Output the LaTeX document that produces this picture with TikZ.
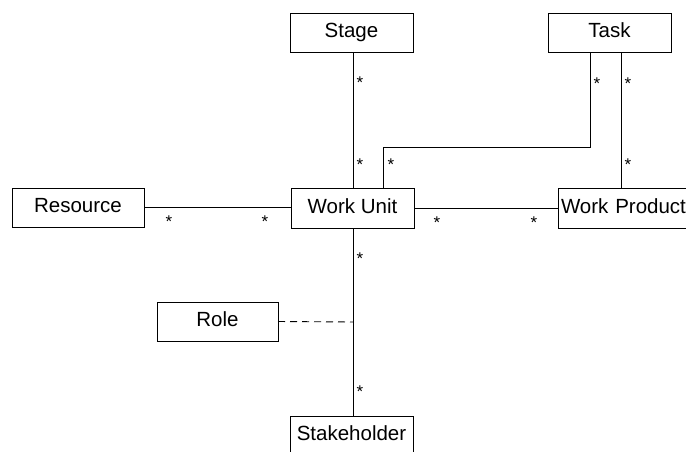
\documentclass[tikz,border=0pt]{standalone}
\usepackage{fontspec}
\setmainfont{Liberation Sans}
\begin{document}
\begin{tikzpicture}[x=1pt,y=-1pt,
  every node/.style={font=\fontsize{20.5}{24}\selectfont},
  cls/.style={draw, line width=0.9pt, rectangle, outer sep=0pt, inner sep=0pt,
    minimum width=123pt, minimum height=39pt, text height=15pt, text depth=5pt},
  mult/.style={anchor=base, inner sep=0pt, font=\fontsize{17}{20}\selectfont},
  assoc/.style={line width=0.9pt},
  dep/.style={line width=0.9pt, dash pattern=on 7pt off 5pt}]
\useasboundingbox (0,0) rectangle (686,451);

% classes
\node[cls] (stage) at (351.5,32.5) {Stage};
\node[cls] (task) at (609.5,32.5) {Task};
\node[cls, minimum height=40pt] (wu) at (352.5,208) {Work Unit};
\node[cls, minimum height=40pt, anchor=west, text width=137pt, align=left,
      inner xsep=3pt] (wp) at (558,208) {Work Product};
\node[cls, minimum width=132pt] (res) at (78,207.5) {Resource};
\node[cls, minimum width=121pt] (role) at (217.5,321.5) {Role};
\node[cls, anchor=north] (sh) at (351.5,416) {Stakeholder};

% helper points
\coordinate (spine) at (353,322);
\coordinate (tA) at (590,52);
\coordinate (tB) at (621,52);
\coordinate (bend) at (590,147);
\coordinate (wuT) at (383,188);

% associations
\draw[assoc] (stage.south -| spine) -- (wu.north -| spine);
\draw[assoc] (tA) -- (bend) -| (wuT);
\draw[assoc] (tB) -- (tB |- wp.north);
\draw[assoc] (wu.east) -- (wu.east -| wp.west);
\draw[assoc] (res.east) -- (res.east -| wu.west);
\draw[assoc] (wu.south -| spine) -- (sh.north -| spine);
\draw[dep] (role.east) -- (spine);

% multiplicities
\node[mult] (m1) at (360,88) {*};
\node[mult] (m2) at (360,170) {*};
\node[mult] (m3) at (597,89) {*};
\node[mult] (m4) at (391,170) {*};
\node[mult] (m5) at (628,89) {*};
\node[mult] (m6) at (628,170) {*};
\node[mult] (m7) at (437,228) {*};
\node[mult] (m8) at (534,228) {*};
\node[mult] (m9) at (169,227) {*};
\node[mult] (m10) at (265,227) {*};
\node[mult] (m11) at (360,264) {*};
\node[mult] (m12) at (360,397) {*};
\end{tikzpicture}
\end{document}
